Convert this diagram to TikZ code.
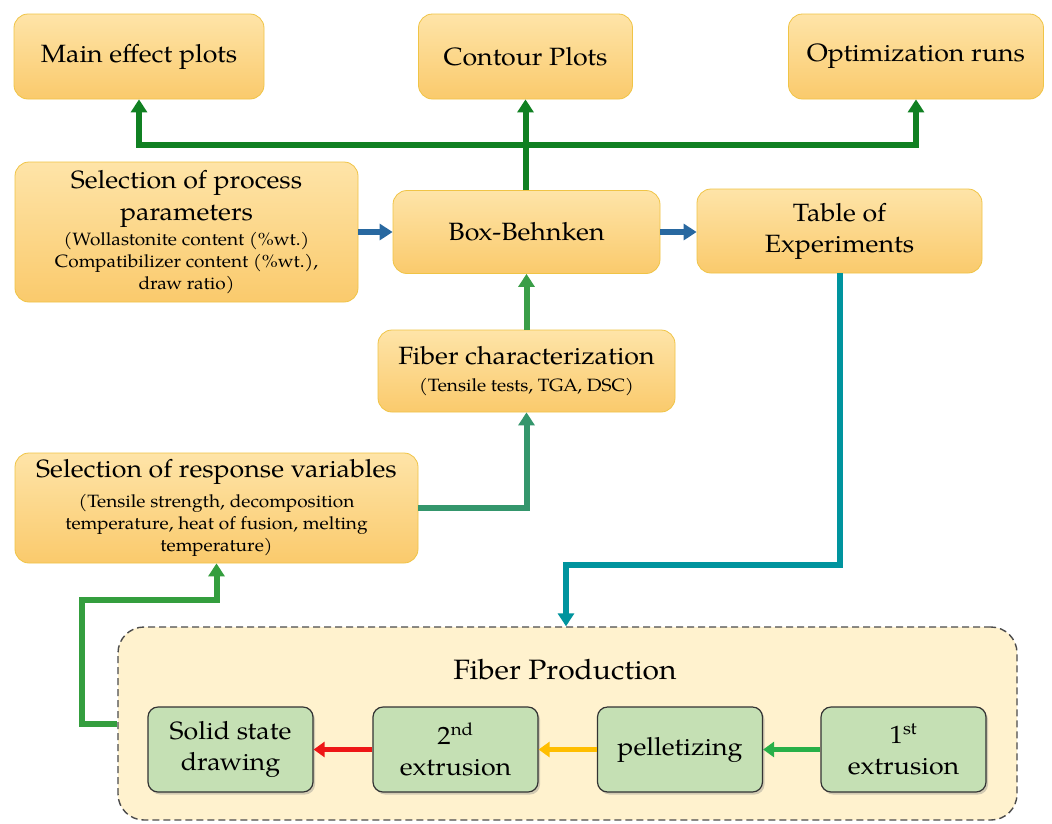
\documentclass[tikz,border=0pt]{standalone}
\usepackage{fontspec}
\setmainfont{TeX Gyre Pagella}[FakeStretch=1.07]
\usetikzlibrary{arrows.meta,shadows}
\definecolor{otop}{RGB}{254,228,168}
\definecolor{obot}{RGB}{250,202,108}
\definecolor{oborder}{RGB}{240,196,70}
\definecolor{gfill}{RGB}{197,224,180}
\definecolor{fpfill}{RGB}{255,242,206}
\definecolor{topgreen}{RGB}{16,128,34}
\definecolor{bluearr}{RGB}{40,104,160}
\definecolor{midgreen}{RGB}{58,158,72}
\definecolor{tealgreen}{RGB}{52,150,108}
\definecolor{tealarr}{RGB}{0,148,158}
\definecolor{leftgreen}{RGB}{52,158,62}
\definecolor{arrgreen}{RGB}{40,176,72}
\definecolor{arryellow}{RGB}{255,190,0}
\definecolor{arrred}{RGB}{238,22,22}
\newcommand\bigf{\fontsize{25}{30}\selectfont}
\newcommand\smallf{\fontsize{17.8}{22}\selectfont}
\newcommand\basef{\smallf\lineskiplimit=-50pt\relax}
\newcommand\gfont{\fontsize{25}{30.5}\selectfont\lineskiplimit=-50pt\relax}
\begin{document}
\begin{tikzpicture}[x=1pt,y=-1pt,
  obox/.style={draw=oborder, line width=0.8pt, rounded corners=14pt,
    top color=otop, bottom color=obot, align=center, inner sep=0pt, font=\basef},
  gbox/.style={draw=black!80, line width=1.2pt, rounded corners=10pt, fill=gfill,
    align=center, inner sep=0pt, font=\gfont,
    drop shadow={shadow xshift=2pt, shadow yshift=-2.5pt, opacity=0.35},
    minimum width=165pt, minimum height=85pt},
  arr/.style={line width=6pt, -{Triangle[width=16pt,length=13pt]}},
  sarr/.style={line width=5.5pt, -{Triangle[width=15pt,length=11pt]}}
]
\useasboundingbox[fill=white] (0,0) rectangle (1052,823);

% Fiber production container
\node[draw=black!70, dash pattern=on 7pt off 4pt, line width=1.4pt, rounded corners=26pt, fill=fpfill,
  minimum width=899pt, minimum height=193pt, inner sep=0pt] (fp) at (567.5,723.5) {};
\node[font=\fontsize{28}{34}\selectfont, inner sep=0pt] (fptitle) at (565,670) {Fiber Production};

% top boxes
\node[obox, minimum width=250pt, minimum height=85pt] (main) at (139,56.5) {\bigf Main effect plots};
\node[obox, minimum width=214pt, minimum height=85pt] (contour) at (525.5,56.5) {\bigf Contour Plots};
\node[obox, minimum width=255pt, minimum height=85pt] (opt) at (916,56.5) {\bigf Optimization runs};

% middle boxes
\node[obox, minimum width=343pt, minimum height=140pt] (spp) at (186.5,232)
  {\bigf Selection of process\\[10pt] \bigf parameters\\[3pt] \smallf (Wollastonite content (\%wt.)\\
   \smallf Compatibilizer content (\%wt.),\\ \smallf draw ratio)};
\node[obox, minimum width=267pt, minimum height=83pt] (bb) at (526.5,232) {\bigf Box-Behnken};
\node[obox, minimum width=285pt, minimum height=84pt] (toe) at (839.5,231)
  {\bigf Table of\\[9pt] \bigf Experiments};
\node[obox, minimum width=297pt, minimum height=82pt] (fc) at (526.5,371)
  {\bigf Fiber characterization\\[5pt] \smallf (Tensile tests, TGA, DSC)};
\node[obox, minimum width=403pt, minimum height=110pt] (resp) at (216.5,508)
  {\bigf Selection of response variables\\[8pt] \smallf (Tensile strength, decomposition\\
   \smallf temperature, heat of fusion, melting\\ \smallf temperature)};

% green process boxes
\node[gbox] (ssd) at (230.5,749.5) {Solid state\\ drawing};
\node[gbox] (e2) at (455.5,749.5) {2\textsuperscript{nd}\\ extrusion};
\node[gbox] (pel) at (680,749.5) {pelletizing};
\node[gbox] (e1) at (903.5,749.5) {1\textsuperscript{st}\\ extrusion};

% connectors
\coordinate (tj) at (525.5,145);
\draw[arr, topgreen] (bb.north -| contour.south) -- (contour.south);
\draw[arr, topgreen] (tj) -| (main.south);
\draw[arr, topgreen] (tj) -| (opt.south);
\draw[arr, bluearr] (spp.east) -- (bb.west);
\draw[arr, bluearr] (bb.east) -- (toe.west |- bb.east);
\draw[arr, midgreen] (fc.north) -- (bb.south);
\draw[arr, tealgreen] (resp.east) -| (fc.south);
\coordinate (tb) at (566,565);
\draw[arr, tealarr] (toe.south) |- (tb) -- (tb |- fp.north);
\coordinate (lb) at (82,600);
\draw[arr, leftgreen] (fp.west) -| (lb) -| (resp.south);
\draw[sarr, arrgreen] (e1.west) -- (pel.east);
\draw[sarr, arryellow] (pel.west) -- (e2.east);
\draw[sarr, arrred] (e2.west) -- (ssd.east);
\end{tikzpicture}
\end{document}
